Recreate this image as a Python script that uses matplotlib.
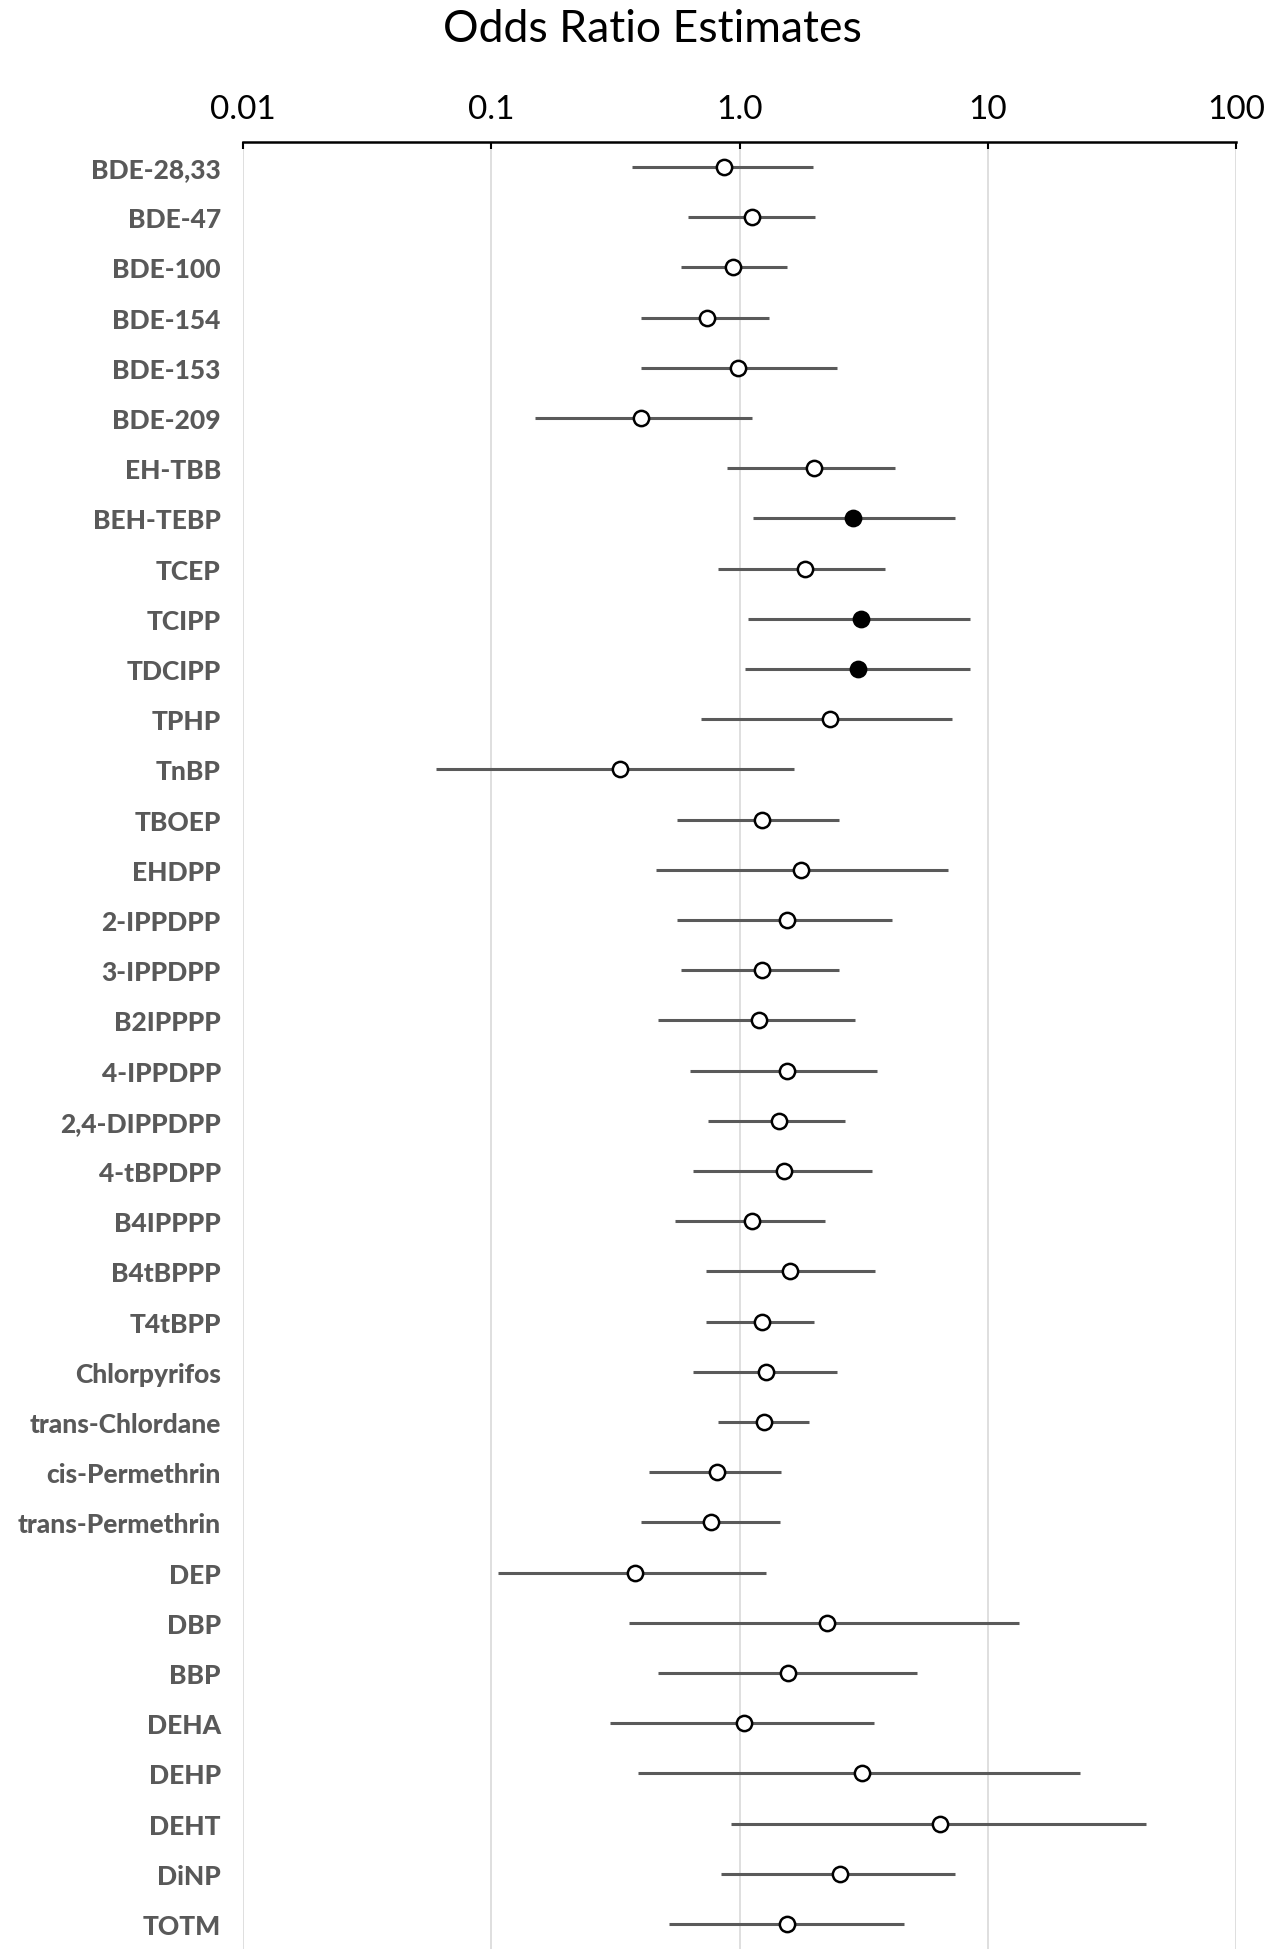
import numpy as np
import matplotlib
matplotlib.use("Agg")
from matplotlib import pyplot as plt

plt.rcParams['font.family'] = ['Lato', 'DejaVu Sans']

compounds = ["BDE-28,33", "BDE-47", "BDE-100", "BDE-154", "BDE-153", "BDE-209",
             "EH-TBB", "BEH-TEBP", "TCEP", "TCIPP", "TDCIPP", "TPHP", "TnBP",
             "TBOEP", "EHDPP", "2-IPPDPP", "3-IPPDPP", "B2IPPPP", "4-IPPDPP",
             "2,4-DIPPDPP", "4-tBPDPP", "B4IPPPP", "B4tBPPP", "T4tBPP",
             "Chlorpyrifos", "trans-Chlordane", "cis-Permethrin", "trans-Permethrin",
             "DEP", "DBP", "BBP", "DEHA", "DEHP", "DEHT", "DiNP", "TOTM"]

odds_ratio = [0.87, 1.12, 0.94, 0.74, 0.99, 0.40, 2.00, 2.86, 1.83, 3.09, 3.01, 2.31,
              0.33, 1.23, 1.77, 1.55, 1.23, 1.20, 1.55, 1.44, 1.51, 1.12, 1.60, 1.23,
              1.28, 1.26, 0.81, 0.77, 0.38, 2.25, 1.57, 1.04, 3.12, 6.44, 2.53, 1.55]

ci_low = [0.37, 0.62, 0.58, 0.40, 0.40, 0.15, 0.89, 1.13, 0.82, 1.08, 1.05, 0.70,
          0.06, 0.56, 0.46, 0.56, 0.58, 0.47, 0.63, 0.75, 0.65, 0.55, 0.73, 0.73,
          0.65, 0.82, 0.43, 0.40, 0.106, 0.36, 0.47, 0.30, 0.39, 0.92, 0.84, 0.52]

ci_high = [1.97, 2.01, 1.55, 1.31, 2.47, 1.12, 4.22, 7.39, 3.86, 8.47, 8.47, 7.21,
           1.66, 2.52, 6.89, 4.10, 2.52, 2.91, 3.58, 2.66, 3.43, 2.20, 3.51, 2.00,
           2.46, 1.90, 1.47, 1.45, 1.28, 13.4, 5.18, 3.47, 23.5, 43.3, 7.37, 4.62]

# filled markers = CI excludes 1
significant = ["BEH-TEBP", "TCIPP", "TDCIPP"]

xticks = [0.01, 0.1, 1.0, 10, 100]
xticklabels = ["0.01", "0.1", "1.0", "10", "100"]

fig = plt.figure(figsize=(12.78, 19.58), dpi=100)
ax = fig.add_axes([243 / 1278, 1 - 1950 / 1958, 993 / 1278, (1950 - 143) / 1958])

y = np.arange(len(compounds))
ax.hlines(y, ci_low, ci_high, color="#5a5a5a", linewidth=2.2, zorder=3)

for i, name in enumerate(compounds):
    face = "black" if name in significant else "white"
    ax.plot(odds_ratio[i], y[i], marker="o", markersize=11, markerfacecolor=face,
            markeredgecolor="black", markeredgewidth=1.8, zorder=4)

ax.set_xscale("log")
ax.set_xlim(0.01, 100)
ax.set_ylim(len(compounds) - 0.5, -0.5)

ax.set_xticks(xticks)
ax.set_xticklabels(xticklabels)
ax.xaxis.set_minor_locator(matplotlib.ticker.NullLocator())
ax.xaxis.tick_top()
ax.tick_params(axis="x", direction="in", length=5, width=1.5, color="black",
               labelsize=24, pad=13, labelcolor="black")
ax.set_yticks(y)
ax.set_yticklabels(compounds, fontweight="black", color="#595959")
ax.tick_params(axis="y", length=0, labelsize=19, pad=16)

ax.grid(axis="x", color="#d9d9d9", linewidth=1.2, zorder=0)
ax.set_axisbelow(True)

for side in ["right", "bottom", "left"]:
    ax.spines[side].set_visible(False)
ax.spines["top"].set_linewidth(1.8)
ax.spines["top"].set_color("black")

fig.text(652 / 1278, 1 - 42 / 1958, "Odds Ratio Estimates", fontsize=32,
         ha="center", va="baseline", color="black")

fig.savefig("out.png", dpi=100)
